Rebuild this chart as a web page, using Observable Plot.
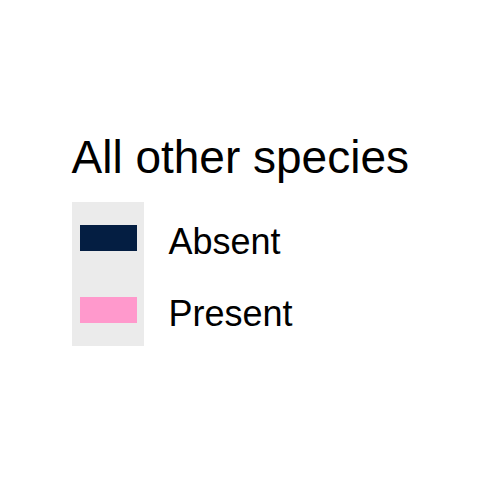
<!DOCTYPE html>
<html>
<head>
<meta charset="utf-8">
<script src="https://cdn.jsdelivr.net/npm/d3@7"></script>
<script src="https://cdn.jsdelivr.net/npm/@observablehq/plot@0.6"></script>
<style>
  html, body { margin: 0; padding: 0; background: #ffffff; }
  #chart svg { display: block; }
</style>
</head>
<body>
<div id="chart"></div>
<script>
const legendTitle = "All other species";
const categories = ["Absent", "Present"];
const colors = ["#041E42", "#FF99CC"];

const keys = categories.map(c => ({key: "k", category: c}));

const chart = Plot.plot({
  width: 480,
  height: 480,
  margin: 0,
  style: {fontFamily: "'Liberation Sans', Arial, sans-serif", background: "#ffffff", color: "#000000"},
  x: {type: "band", domain: ["k"], range: [72, 144], padding: 0, axis: null},
  y: {type: "band", domain: categories, range: [202, 346], padding: 0, axis: null},
  color: {domain: categories, range: colors},
  marks: [
    Plot.cell(keys, {x: "key", y: "category", fill: "#EBEBEB"}),
    Plot.cell(keys, {x: "key", y: "category", fill: "category", insetLeft: 8, insetRight: 7, insetTop: 23, insetBottom: 23}),
    Plot.text(keys, {x: "key", y: "category", text: "category", textAnchor: "start", lineAnchor: "bottom", dx: 60, dy: 15, fontSize: 36, fill: "#000000"}),
    Plot.text([legendTitle], {text: d => d, frameAnchor: "top-left", textAnchor: "start", lineAnchor: "bottom", dx: 71, dy: 172, fontSize: 46, fill: "#000000"})
  ]
});
document.getElementById("chart").appendChild(chart);
</script>
</body>
</html>
